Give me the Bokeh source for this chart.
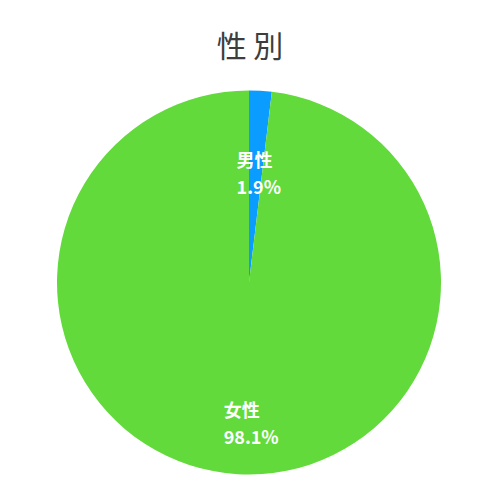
import math
from bokeh.plotting import figure
from bokeh.models import ColumnDataSource
from bokeh.core.properties import value
from bokeh.embed import file_html
from bokeh.resources import INLINE

title_text = "性 別"
categories = ["男性", "女性"]
percents = [1.9, 98.1]
colors = ["#0A9CFF", "#62DA3C"]

# layout constants
label_radius_frac = [0.575, 0.73]
label_nudge_x = [3, 10]
label_half_width = [22, 27]

R = 192
W = H = 484
cx_page, cy_page = 248.5, 282.0
x0 = -cx_page
y1 = cy_page

p = figure(width=W, height=H, output_backend="svg", toolbar_location=None,
           x_range=(x0, x0 + W), y_range=(y1 - H, y1),
           min_border=0, outline_line_color=None)
p.axis.visible = False
p.grid.visible = False
p.background_fill_color = "white"
p.border_fill_color = "white"

total = sum(percents)
starts, ends, mids = [], [], []
cum = 0.0
for v in percents:
    a0 = math.pi / 2 - 2 * math.pi * cum / total
    cum += v
    a1 = math.pi / 2 - 2 * math.pi * cum / total
    starts.append(a0)
    ends.append(a1)
    mids.append((a0 + a1) / 2)

src = ColumnDataSource(dict(start=starts, end=ends, color=colors))
p.wedge(x=0, y=0, radius=R, start_angle="start", end_angle="end",
        direction="clock", fill_color="color", line_color=None, source=src)

lx = [R * f * math.cos(m) + n - hw for f, m, n, hw in
      zip(label_radius_frac, mids, label_nudge_x, label_half_width)]
ly = [R * f * math.sin(m) for f, m in zip(label_radius_frac, mids)]
pct_text = [f"{v:.1f}%" for v in percents]

p.text(x=lx, y=[y + 13.5 for y in ly], text=categories,
       text_font=value("Noto Sans CJK JP"), text_font_style="bold",
       text_font_size="18px", text_color="white",
       text_align="left", text_baseline="middle")
p.text(x=lx, y=[y - 13.5 for y in ly], text=pct_text,
       text_font=value("Noto Sans CJK JP"), text_font_style="bold",
       text_font_size="18px", text_color="white",
       text_align="left", text_baseline="middle")

p.text(x=[1], y=[cy_page - 43], text=[title_text],
       text_font=value("Noto Sans CJK JP"), text_font_size="30px",
       text_color="#3d3d3d", text_align="center", text_baseline="middle")

open("out.html", "w").write(file_html(p, INLINE))
